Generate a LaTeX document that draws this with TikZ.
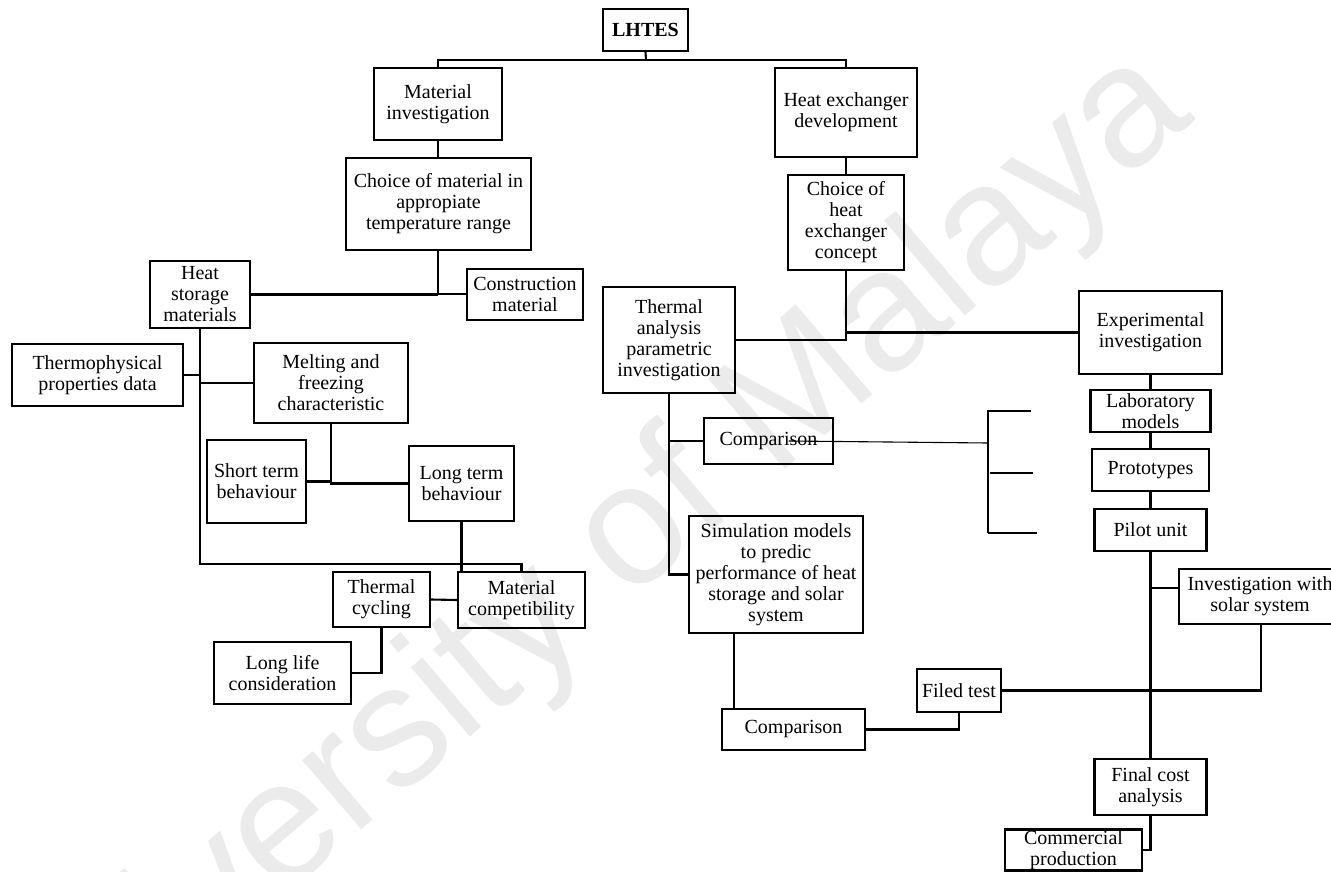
\documentclass[tikz,border=0pt]{standalone}
\usepackage{fontspec}
\setmainfont{Liberation Serif}
\newfontfamily\wmfont{Liberation Sans}
\begin{document}
\begin{tikzpicture}[x=1pt,y=-1pt,
  box/.style={draw, line width=2.1pt, inner sep=0pt, align=center,
              font=\fontsize{20}{21}\selectfont},
  link/.style={line width=2.1pt},
  hair/.style={line width=1.1pt},
]
\useasboundingbox (0,0) rectangle (1331,872);
\clip (0,0) rectangle (1331,872);

% faint diagonal watermark behind the chart
\node[rotate=40.4, anchor=base east, text=black!8, inner sep=0pt,
      font=\fontsize{172}{172}\wmfont] (wm) at (1197,119) {University of Malaya};

% ---- boxes ----
\node[box, minimum width=85, minimum height=42, font=\fontsize{20}{21}\bfseries] (lhtes) at (645.5,30) {LHTES};
\node[box, minimum width=128, minimum height=72] (mi) at (438,104) {Material\\investigation};
\node[box, minimum width=142, minimum height=89] (hed) at (846,112.5) {Heat exchanger\\development};
\node[box, minimum width=185, minimum height=92] (cm) at (438.5,204) {Choice of material in\\appropiate\\temperature range};
\node[box, minimum width=116, minimum height=95] (che) at (846,222.5) {Choice of\\heat\\exchanger\\concept};
\node[box, minimum width=100, minimum height=67] (hsm) at (200,294.5) {Heat\\storage\\materials};
\node[box, minimum width=116, minimum height=51] (con) at (525,294.5) {Construction\\material};
\node[box, minimum width=132, minimum height=106] (ta) at (669,340) {Thermal\\analysis\\parametric\\investigation};
\node[box, minimum width=143, minimum height=83] (ei) at (1150.5,332.5) {Experimental\\investigation};
\node[box, minimum width=171, minimum height=62] (tpd) at (97.5,375) {Thermophysical\\properties data};
\node[box, minimum width=154, minimum height=80] (mf) at (331,383) {Melting and\\freezing\\characteristic};
\node[box, minimum width=120, minimum height=42] (lab) at (1150.5,411) {Laboratory\\models};
\node[box, minimum width=129, minimum height=46] (cmp1) at (768.5,441) {Comparison};
\node[box, minimum width=99, minimum height=83] (stb) at (256.5,481.5) {Short term\\behaviour};
\node[box, minimum width=105, minimum height=75] (ltb) at (461.5,483.5) {Long term\\behaviour};
\node[box, minimum width=117, minimum height=42] (proto) at (1150.5,470) {Prototypes};
\node[box, minimum width=112, minimum height=42] (pilot) at (1150.5,530) {Pilot unit};
\node[box, minimum width=174, minimum height=117] (sim) at (776,574.5) {Simulation models\\to predic\\performance of heat\\storage and solar\\system};
\node[box, minimum width=162, minimum height=55] (iss) at (1260,596.5) {Investigation with\\solar system};
\node[box, minimum width=127, minimum height=56] (mc) at (521.5,600) {Material\\competibility};
\node[box, minimum width=97, minimum height=55] (tc) at (381.5,599.5) {Thermal\\cycling};
\node[box, minimum width=137, minimum height=62] (llc) at (282.5,673) {Long life\\consideration};
\node[box, minimum width=84, minimum height=43] (filed) at (959,690.5) {Filed test};
\node[box, minimum width=143, minimum height=41] (cmp2) at (793.5,729.5) {Comparison};
\node[box, minimum width=112, minimum height=56] (fca) at (1150.5,787) {Final cost\\analysis};
\node[box, minimum width=137, minimum height=41] (cp) at (1073.5,850) {Commercial\\production};

% ---- junction points ----
\coordinate (top) at (646,60);
\coordinate (j1) at (438,294);
\coordinate (j2) at (846,340);
\coordinate (j3) at (669,574.5);
\coordinate (j4) at (1150.5,588);
\coordinate (j5) at (1261,690.5);
\coordinate (j7) at (200,564);
\coordinate (bk) at (988,443);
\coordinate (bt) at (988,411);
\coordinate (bb) at (988,533);
\coordinate (bt2) at (1031,411);
\coordinate (bm1) at (990,473);
\coordinate (bm2) at (1033,473);
\coordinate (bb2) at (1037,533);

% ---- top level ----
\draw[link] (lhtes.south) -- (top);
\draw[link] (mi.north) |- (top) -| (hed.north);

% ---- material branch ----
\draw[link] (mi.south) -- (mi.south |- cm.north);
\draw[link] (mi.south |- cm.south) -- (j1) -- (j1 -| con.west);
\draw[link] (hsm.east) -- (hsm.east -| j1);
\draw[link] (hsm.south) -- (j7) -- (j7 -| mc.north) -- (mc.north);
\draw[link] (tpd.east) -- (tpd.east -| hsm.south);
\draw[link] (hsm.south |- mf.west) -- (mf.west);
\draw[link] (mf.south) |- (ltb.west);
\draw[link] (stb.east) -- (stb.east -| mf.south);
\draw[link] (ltb.south) -- (ltb.south |- mc.north);
\draw[link] (tc.east) -- (mc.west);
\draw[link] (tc.south) |- (llc.east);

% ---- heat exchanger branch ----
\draw[link] (hed.south) -- (che.north);
\draw[link] (che.south) -- (j2) -- (ta.east);
\draw[link] (ei.west) -- (ei.west -| j2);
\draw[link] (ta.south) -- (j3) -- (sim.west);
\draw[link] (ta.south |- cmp1.west) -- (cmp1.west);
\draw[hair] ([xshift=20pt]cmp1.center) -- (bk);
\draw[hair] (bt2) -- (bt) -- (bb);
\draw[link] (bb) -- (bb2);
\draw[link] (bm1) -- (bm2);
\draw[link] ([xshift=-42pt]sim.south) -- ([xshift=-42pt]sim.south |- cmp2.north);
\draw[link] (cmp2.east) -| (filed.south);

% ---- experimental chain ----
\draw[link] (ei.south) -- (lab.north);
\draw[link] (lab.south) -- (proto.north);
\draw[link] (proto.south) -- (pilot.north);
\draw[link] (pilot.south) -- (fca.north);
\draw[link] (j4) -- (j4 -| iss.west);
\draw[link] (iss.south -| j5) -- (j5) -- (filed.east);
\draw[link] (fca.south) |- (cp.east);
\end{tikzpicture}
\end{document}
